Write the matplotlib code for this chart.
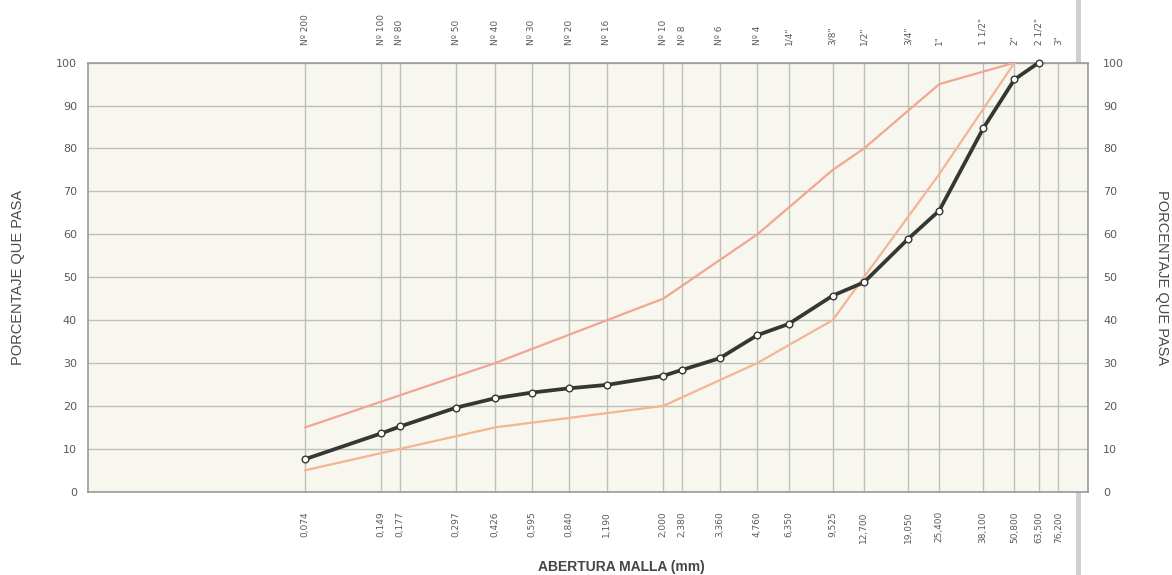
#!/usr/bin/env python3
# -*- coding: utf-8 -*-

'''
curva_granulometrica.py

Plot the grain size distribution curve (percentage passing vs sieve
opening) together with the upper and lower specification limits.

To run the code:
   ./curva_granulometrica.py
'''

import matplotlib
matplotlib.use('Agg')
import matplotlib.pyplot as plt
from matplotlib.lines import Line2D


# Sieve openings (mm) and their names
sieve_mm = [0.074, 0.149, 0.177, 0.297, 0.426, 0.595, 0.840, 1.190, 2.000, 2.380,
            3.360, 4.760, 6.350, 9.525, 12.700, 19.050, 25.400, 38.100, 50.800,
            63.500, 76.200]
sieve_mm_labels = ['0,074', '0,149', '0,177', '0,297', '0,426', '0,595', '0,840',
                   '1,190', '2,000', '2,380', '3,360', '4,760', '6,350', '9,525',
                   '12,700', '19,050', '25,400', '38,100', '50,800', '63,500', '76,200']
sieve_names = ['Nº 200', 'Nº 100', 'Nº 80', 'Nº 50', 'Nº 40', 'Nº 30', 'Nº 20',
               'Nº 16', 'Nº 10', 'Nº 8', 'Nº 6', 'Nº 4', '1/4"', '3/8"', '1/2"',
               '3/4"', '1"', '1 1/2"', '2"', '2 1/2"', '3"']

# Sample gradation (% passing)
sample_mm = [0.074, 0.149, 0.177, 0.297, 0.426, 0.595, 0.840, 1.190, 2.000, 2.380,
             3.360, 4.760, 6.350, 9.525, 12.700, 19.050, 25.400, 38.100, 50.800, 63.500]
sample_pass = [7.6, 13.6, 15.2, 19.6, 21.8, 23.1, 24.1, 24.9, 27.0, 28.4,
               31.1, 36.5, 39.1, 45.7, 48.8, 58.9, 65.5, 84.7, 96.1, 100.0]

# Specification limits
upper_mm = [0.074, 0.426, 2.000, 4.760, 9.525, 12.700, 25.400, 50.800]
upper_pass = [15, 30, 45, 60, 75, 80, 95, 100]
lower_mm = [0.074, 0.426, 2.000, 4.760, 9.525, 12.700, 25.400, 50.800]
lower_pass = [5, 15, 20, 30, 40, 50, 74, 100]

y_ticks = [0, 10, 20, 30, 40, 50, 60, 70, 80, 90, 100]


def main():

    W, H = 1172, 575
    fig = plt.figure(figsize=(W / 100, H / 100), dpi=100)
    ax = fig.add_axes([88 / W, 1 - 491.7 / H, 1000 / W, 429 / H])

    tick_col = '#5a5a5a'
    grid_col = '#bfbfba'

    ax.set_facecolor('#f7f7f0')
    ax.set_xscale('log')
    ax.set_xlim(0.01, 100)
    ax.set_ylim(0, 100)

    # vertical grid at every sieve, horizontal every 10 %
    for xv in sieve_mm + [100]:
        ax.axvline(xv, color=grid_col, linewidth=1.0, zorder=1)
    for yv in y_ticks:
        ax.axhline(yv, color=grid_col, linewidth=1.0, zorder=1)

    # limits
    ax.plot(upper_mm, upper_pass, color='#f2a592', linewidth=1.6, zorder=3)
    ax.plot(lower_mm, lower_pass, color='#f3b592', linewidth=1.6, zorder=3)

    # sample curve
    ax.plot(sample_mm, sample_pass, color='#343734', linewidth=2.7,
            marker='o', markersize=4.8, markerfacecolor='white',
            markeredgecolor='#343734', markeredgewidth=1.0, zorder=4,
            clip_on=False)

    for side in ['left', 'right', 'top', 'bottom']:
        ax.spines[side].set_color('#9a9a98')
        ax.spines[side].set_linewidth(1.2)

    # bottom: sieve openings (mm)
    ax.set_xticks(sieve_mm)
    ax.set_xticklabels(sieve_mm_labels, rotation=90, fontsize=6.5, color=tick_col)
    ax.xaxis.set_minor_locator(matplotlib.ticker.NullLocator())
    ax.tick_params(axis='x', length=0, pad=14)

    # top: sieve names
    ax_top = ax.secondary_xaxis('top')
    ax_top.set_xticks(sieve_mm)
    ax_top.set_xticklabels(sieve_names, rotation=90, fontsize=6.5, color=tick_col)
    ax_top.xaxis.set_minor_locator(matplotlib.ticker.NullLocator())
    ax_top.tick_params(axis='x', length=0, pad=13)
    ax_top.spines['top'].set_visible(False)

    # left / right percentage axes
    ax.set_yticks(y_ticks)
    ax.set_yticklabels([str(v) for v in y_ticks], fontsize=8, color=tick_col)
    ax.tick_params(axis='y', length=0, pad=8)
    ax.set_ylabel('PORCENTAJE QUE PASA', fontsize=10.5, color='#4a4a4a',
                  family='Liberation Sans', labelpad=22)

    ax2 = ax.twinx()
    ax2.set_ylim(0, 100)
    ax2.set_yticks(y_ticks)
    ax2.set_yticklabels([str(v) for v in y_ticks], fontsize=8, color=tick_col)
    ax2.tick_params(axis='y', length=0, pad=11)
    ax2.set_ylabel('PORCENTAJE QUE PASA', fontsize=10.5, color='#4a4a4a',
                   family='Liberation Sans', rotation=270, labelpad=32)
    for side in ['left', 'right', 'top', 'bottom']:
        ax2.spines[side].set_visible(False)

    fig.text(621 / W, 1 - 567 / H, 'ABERTURA MALLA (mm)', ha='center', va='center',
             fontsize=10, fontweight='bold', color='#454545', family='Liberation Sans')

    # fold line of the sheet
    fig.add_artist(Line2D([1078 / W, 1078 / W], [0, 1], transform=fig.transFigure,
                          color='#cfcfd2', linewidth=3.5, zorder=0))

    fig.savefig('out.png', dpi=100, facecolor='white')
    plt.close(fig)


if __name__ == '__main__':
    main()
